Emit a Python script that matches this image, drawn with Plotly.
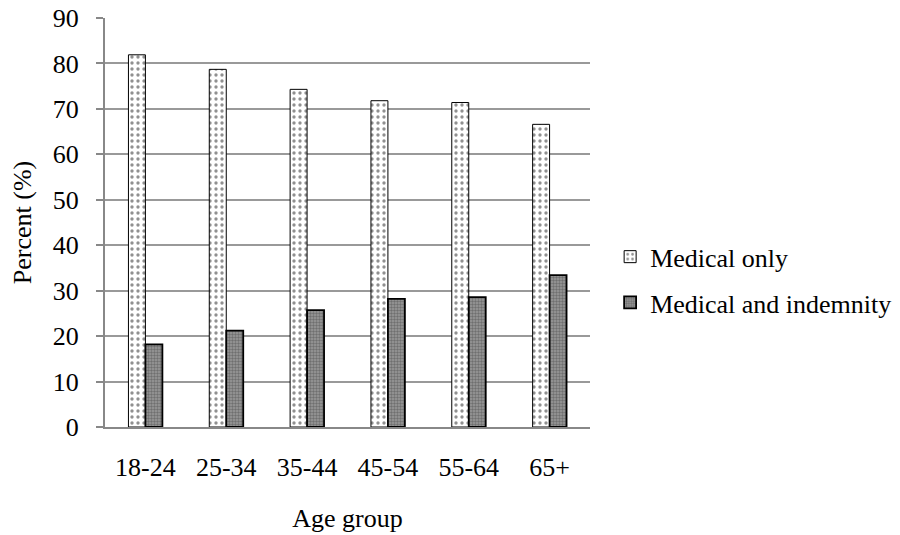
import plotly.graph_objects as go

categories = ["18-24", "25-34", "35-44", "45-54", "55-64", "65+"]
medical_only = [81.9, 78.7, 74.3, 71.8, 71.4, 66.6]
medical_indemnity = [18.2, 21.2, 25.7, 28.2, 28.6, 33.4]
y_ticks = [0, 10, 20, 30, 40, 50, 60, 70, 80, 90]

FONT = "Liberation Serif, Times New Roman, serif"
FS = 26

fig = go.Figure()
fig.add_trace(go.Bar(
    x=categories, y=medical_only, name="Medical only",
    legendgroup="a",
    marker=dict(color="white",
                line=dict(color="black", width=1),
                pattern=dict(shape=".", fgcolor="#222", bgcolor="white",
                             size=6, solidity=0.25)),
))
fig.add_trace(go.Bar(
    x=categories, y=medical_indemnity, name="Medical and indemnity",
    legendgroup="b",
    marker=dict(color="#888",
                line=dict(color="black", width=1.8),
                pattern=dict(shape=".", fgcolor="#444", bgcolor="#9a9a9a",
                             size=3, solidity=0.5)),
))

# page body has an 8px default margin; margins compensate for it
fig.update_layout(
    width=900, height=535,
    margin=dict(l=97, r=318, t=10, b=116, autoexpand=False),
    paper_bgcolor="white", plot_bgcolor="white",
    font=dict(family=FONT, size=FS, color="black"),
    barmode="group", bargap=0.58, bargroupgap=0,
    showlegend=True,
    legend=dict(x=1.0415, y=0.36, xanchor="left", yanchor="middle",
                font=dict(family=FONT, size=FS), tracegroupgap=9,
                itemwidth=30),
    xaxis=dict(
        automargin=False,
        showline=True, linecolor="#888", linewidth=2,
        ticks="", showgrid=False,
        ticklabelstandoff=16,
        title=dict(text="Age group", font=dict(family=FONT, size=FS), standoff=28),
    ),
    yaxis=dict(
        automargin=False,
        range=[0, 90], tickvals=y_ticks,
        showline=True, linecolor="#888", linewidth=2,
        ticks="outside", ticklen=7, tickcolor="#888", tickwidth=2,
        showgrid=True, gridcolor="#999", gridwidth=2,
        zeroline=False,
        ticklabelstandoff=12, ticklabeloverflow="allow",
        title=dict(text="Percent (%)", font=dict(family=FONT, size=FS), standoff=14),
    ),
)

fig.write_html("out.html")
